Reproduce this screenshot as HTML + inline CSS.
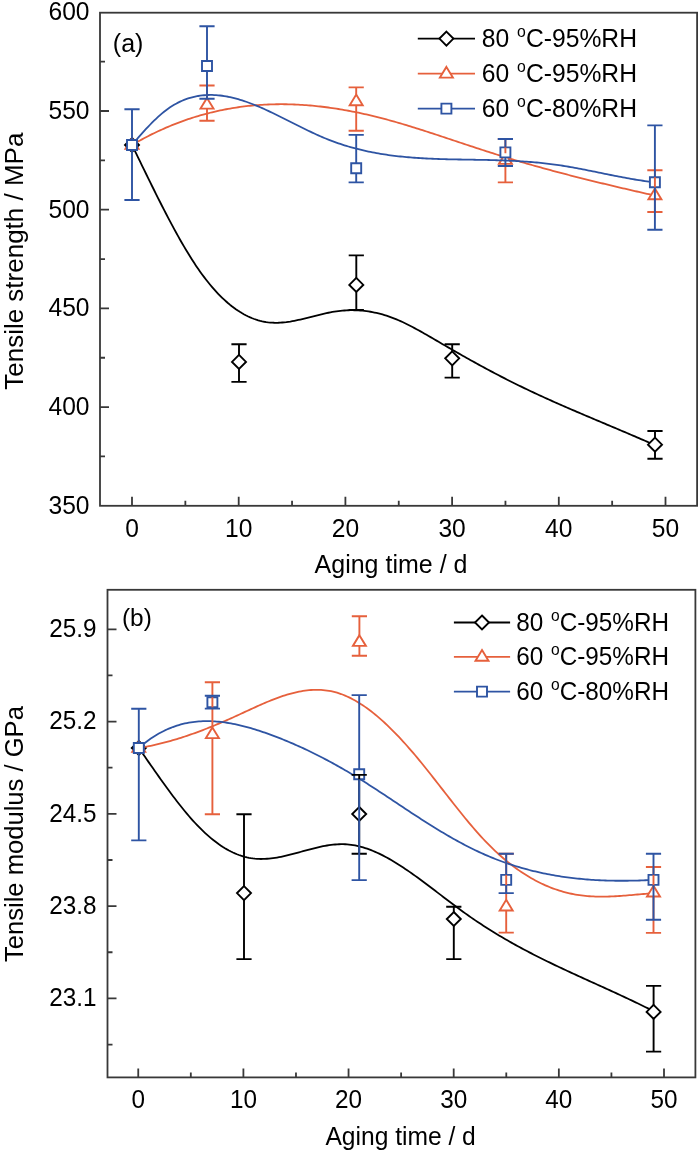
<!DOCTYPE html>
<html><head><meta charset="utf-8"><title>Figure</title>
<style>
html,body{margin:0;padding:0;background:#fff;}
svg{display:block;filter:blur(0.45px);}
text{font-family:"Liberation Sans",sans-serif;fill:#000;}
</style></head>
<body>
<svg width="700" height="1153" viewBox="0 0 700 1153" font-size="25">
<rect width="700" height="1153" fill="#fff"/>
<path d="M132 145 L134 149.1 L136.01 153.2 L138.01 157.31 L140.02 161.43 L142.02 165.54 L144.02 169.64 L146.03 173.74 L148.03 177.84 L150.03 181.91 L152.04 185.98 L154.04 190.02 L156.05 194.05 L158.05 198.05 L160.05 202.02 L162.06 205.97 L164.06 209.88 L166.07 213.76 L168.07 217.6 L170.07 221.4 L172.08 225.16 L174.08 228.87 L176.08 232.54 L178.09 236.15 L180.09 239.71 L182.1 243.21 L184.1 246.65 L186.1 250.03 L188.11 253.34 L190.11 256.59 L192.11 259.76 L194.12 262.86 L196.12 265.88 L198.13 268.83 L200.13 271.69 L202.13 274.47 L204.14 277.16 L206.14 279.78 L208.15 282.31 L210.15 284.76 L212.15 287.14 L214.16 289.43 L216.16 291.64 L218.16 293.77 L220.17 295.83 L222.17 297.8 L224.18 299.7 L226.18 301.51 L228.18 303.25 L230.19 304.92 L232.19 306.5 L234.2 308.01 L236.2 309.45 L238.2 310.81 L240.21 312.09 L242.21 313.3 L244.21 314.43 L246.22 315.49 L248.22 316.48 L250.23 317.39 L252.23 318.23 L254.23 318.99 L256.24 319.69 L258.24 320.31 L260.25 320.86 L262.25 321.34 L264.25 321.75 L266.26 322.09 L268.26 322.36 L270.26 322.56 L272.27 322.7 L274.27 322.77 L276.28 322.79 L278.28 322.75 L280.28 322.66 L282.29 322.51 L284.29 322.33 L286.3 322.1 L288.3 321.82 L290.3 321.52 L292.31 321.17 L294.31 320.8 L296.31 320.4 L298.32 319.97 L300.32 319.53 L302.33 319.06 L304.33 318.58 L306.33 318.09 L308.34 317.59 L310.34 317.08 L312.34 316.57 L314.35 316.06 L316.35 315.55 L318.36 315.05 L320.36 314.56 L322.36 314.08 L324.37 313.61 L326.37 313.17 L328.38 312.75 L330.38 312.35 L332.38 311.98 L334.39 311.64 L336.39 311.33 L338.39 311.06 L340.4 310.83 L342.4 310.64 L344.41 310.48 L346.41 310.35 L348.41 310.27 L350.42 310.22 L352.42 310.21 L354.43 310.23 L356.43 310.29 L358.43 310.39 L360.44 310.53 L362.44 310.7 L364.44 310.91 L366.45 311.15 L368.45 311.44 L370.46 311.76 L372.46 312.12 L374.46 312.52 L376.47 312.95 L378.47 313.43 L380.48 313.94 L382.48 314.48 L384.48 315.07 L386.49 315.69 L388.49 316.36 L390.49 317.06 L392.5 317.8 L394.5 318.57 L396.51 319.39 L398.51 320.24 L400.51 321.12 L402.52 322.03 L404.52 322.98 L406.52 323.95 L408.53 324.95 L410.53 325.97 L412.54 327.02 L414.54 328.08 L416.54 329.17 L418.55 330.27 L420.55 331.38 L422.56 332.51 L424.56 333.66 L426.56 334.81 L428.57 335.97 L430.57 337.13 L432.57 338.31 L434.58 339.48 L436.58 340.65 L438.59 341.83 L440.59 343 L442.59 344.17 L444.6 345.33 L446.6 346.49 L448.61 347.65 L450.61 348.81 L452.61 349.96 L454.62 351.11 L456.62 352.26 L458.62 353.4 L460.63 354.54 L462.63 355.67 L464.64 356.8 L466.64 357.93 L468.64 359.05 L470.65 360.17 L472.65 361.28 L474.66 362.39 L476.66 363.5 L478.66 364.59 L480.67 365.69 L482.67 366.78 L484.67 367.86 L486.68 368.94 L488.68 370.02 L490.69 371.09 L492.69 372.15 L494.69 373.21 L496.7 374.26 L498.7 375.31 L500.7 376.35 L502.71 377.38 L504.71 378.41 L506.72 379.44 L508.72 380.45 L510.72 381.46 L512.73 382.47 L514.73 383.46 L516.74 384.45 L518.74 385.44 L520.74 386.42 L522.75 387.39 L524.75 388.35 L526.75 389.31 L528.76 390.27 L530.76 391.21 L532.77 392.16 L534.77 393.09 L536.77 394.03 L538.78 394.95 L540.78 395.87 L542.79 396.79 L544.79 397.71 L546.79 398.61 L548.8 399.52 L550.8 400.42 L552.8 401.31 L554.81 402.21 L556.81 403.1 L558.82 403.98 L560.82 404.86 L562.82 405.74 L564.83 406.62 L566.83 407.49 L568.84 408.36 L570.84 409.23 L572.84 410.09 L574.85 410.95 L576.85 411.81 L578.85 412.67 L580.86 413.53 L582.86 414.38 L584.87 415.23 L586.87 416.08 L588.87 416.93 L590.88 417.78 L592.88 418.63 L594.89 419.48 L596.89 420.32 L598.89 421.17 L600.9 422.01 L602.9 422.86 L604.9 423.7 L606.91 424.55 L608.91 425.39 L610.92 426.24 L612.92 427.08 L614.92 427.93 L616.93 428.77 L618.93 429.62 L620.93 430.47 L622.94 431.32 L624.94 432.17 L626.95 433.02 L628.95 433.88 L630.95 434.74 L632.96 435.59 L634.96 436.45 L636.97 437.32 L638.97 438.18 L640.97 439.05 L642.98 439.92 L644.98 440.79 L646.98 441.67 L648.99 442.54 L650.99 443.43 L653 444.31 L655 445.2" fill="none" stroke="#000000" stroke-width="1.8" stroke-linejoin="round"/>
<path d="M132 138 L139 145 L132 152 L125 145 Z M239 354.9 L246 361.9 L239 368.9 L232 361.9 Z M356.3 277.9 L363.3 284.9 L356.3 291.9 L349.3 284.9 Z M452.2 351.3 L459.2 358.3 L452.2 365.3 L445.2 358.3 Z M655 437.7 L662 444.7 L655 451.7 L648 444.7 Z" fill="#fff" stroke="#000000" stroke-width="1.9" stroke-linejoin="miter"/>
<path d="M132 145 L134 143.83 L136.01 142.68 L138.01 141.55 L140.01 140.44 L142.02 139.35 L144.02 138.28 L146.02 137.23 L148.03 136.19 L150.03 135.17 L152.03 134.17 L154.04 133.19 L156.04 132.23 L158.04 131.29 L160.05 130.36 L162.05 129.45 L164.06 128.56 L166.06 127.69 L168.06 126.83 L170.07 125.99 L172.07 125.17 L174.07 124.37 L176.08 123.58 L178.08 122.81 L180.08 122.06 L182.09 121.32 L184.09 120.6 L186.09 119.9 L188.1 119.21 L190.1 118.55 L192.1 117.89 L194.11 117.26 L196.11 116.64 L198.11 116.04 L200.12 115.45 L202.12 114.88 L204.12 114.32 L206.13 113.78 L208.13 113.26 L210.13 112.75 L212.14 112.26 L214.14 111.78 L216.14 111.32 L218.15 110.88 L220.15 110.45 L222.16 110.03 L224.16 109.63 L226.16 109.25 L228.17 108.88 L230.17 108.52 L232.17 108.18 L234.18 107.86 L236.18 107.55 L238.18 107.25 L240.19 106.97 L242.19 106.7 L244.19 106.45 L246.2 106.21 L248.2 105.98 L250.2 105.77 L252.21 105.57 L254.21 105.39 L256.21 105.22 L258.22 105.06 L260.22 104.92 L262.22 104.79 L264.23 104.68 L266.23 104.57 L268.23 104.48 L270.24 104.41 L272.24 104.34 L274.24 104.29 L276.25 104.26 L278.25 104.23 L280.26 104.22 L282.26 104.22 L284.26 104.23 L286.27 104.26 L288.27 104.3 L290.27 104.35 L292.28 104.41 L294.28 104.49 L296.28 104.57 L298.29 104.67 L300.29 104.78 L302.29 104.9 L304.3 105.04 L306.3 105.18 L308.3 105.34 L310.31 105.51 L312.31 105.68 L314.31 105.88 L316.32 106.08 L318.32 106.29 L320.32 106.51 L322.33 106.75 L324.33 106.99 L326.33 107.25 L328.34 107.51 L330.34 107.79 L332.34 108.08 L334.35 108.38 L336.35 108.68 L338.36 109 L340.36 109.33 L342.36 109.67 L344.37 110.02 L346.37 110.38 L348.37 110.74 L350.38 111.12 L352.38 111.51 L354.38 111.9 L356.39 112.31 L358.39 112.72 L360.39 113.15 L362.4 113.58 L364.4 114.02 L366.4 114.48 L368.41 114.94 L370.41 115.4 L372.41 115.88 L374.42 116.37 L376.42 116.86 L378.42 117.37 L380.43 117.88 L382.43 118.4 L384.43 118.92 L386.44 119.46 L388.44 120 L390.44 120.55 L392.45 121.11 L394.45 121.68 L396.46 122.25 L398.46 122.83 L400.46 123.41 L402.47 124.01 L404.47 124.6 L406.47 125.2 L408.48 125.81 L410.48 126.43 L412.48 127.04 L414.49 127.67 L416.49 128.29 L418.49 128.93 L420.5 129.56 L422.5 130.2 L424.5 130.84 L426.51 131.49 L428.51 132.14 L430.51 132.79 L432.52 133.44 L434.52 134.1 L436.52 134.76 L438.53 135.42 L440.53 136.08 L442.53 136.75 L444.54 137.41 L446.54 138.08 L448.54 138.74 L450.55 139.41 L452.55 140.08 L454.56 140.75 L456.56 141.41 L458.56 142.08 L460.57 142.75 L462.57 143.41 L464.57 144.08 L466.58 144.74 L468.58 145.41 L470.58 146.07 L472.59 146.73 L474.59 147.39 L476.59 148.05 L478.6 148.7 L480.6 149.36 L482.6 150.01 L484.61 150.66 L486.61 151.3 L488.61 151.95 L490.62 152.59 L492.62 153.22 L494.62 153.86 L496.63 154.49 L498.63 155.12 L500.63 155.74 L502.64 156.36 L504.64 156.98 L506.64 157.59 L508.65 158.2 L510.65 158.81 L512.66 159.41 L514.66 160.01 L516.66 160.6 L518.67 161.2 L520.67 161.78 L522.67 162.37 L524.68 162.95 L526.68 163.53 L528.68 164.11 L530.69 164.68 L532.69 165.25 L534.69 165.81 L536.7 166.38 L538.7 166.94 L540.7 167.49 L542.71 168.05 L544.71 168.6 L546.71 169.15 L548.72 169.69 L550.72 170.24 L552.72 170.78 L554.73 171.31 L556.73 171.85 L558.73 172.38 L560.74 172.91 L562.74 173.44 L564.74 173.96 L566.75 174.48 L568.75 175 L570.76 175.52 L572.76 176.04 L574.76 176.55 L576.77 177.06 L578.77 177.57 L580.77 178.07 L582.78 178.58 L584.78 179.08 L586.78 179.58 L588.79 180.07 L590.79 180.57 L592.79 181.06 L594.8 181.55 L596.8 182.04 L598.8 182.53 L600.81 183.02 L602.81 183.5 L604.81 183.98 L606.82 184.47 L608.82 184.94 L610.82 185.42 L612.83 185.9 L614.83 186.37 L616.83 186.85 L618.84 187.32 L620.84 187.79 L622.84 188.26 L624.85 188.72 L626.85 189.19 L628.86 189.65 L630.86 190.12 L632.86 190.58 L634.87 191.04 L636.87 191.5 L638.87 191.96 L640.88 192.42 L642.88 192.87 L644.88 193.33 L646.89 193.79 L648.89 194.24 L650.89 194.69 L652.9 195.15 L654.9 195.6" fill="none" stroke="#e6603c" stroke-width="1.8" stroke-linejoin="round"/>
<path d="M132 138.2 L138.5 148.9 L125.5 148.9 Z M207 97.9 L213.5 108.6 L200.5 108.6 Z M356.2 94.5 L362.7 105.2 L349.7 105.2 Z M505.4 153.2 L511.9 163.9 L498.9 163.9 Z M654.9 188.6 L661.4 199.3 L648.4 199.3 Z" fill="#fff" stroke="#e6603c" stroke-width="1.9" stroke-linejoin="miter"/>
<path d="M132 145 L134 142.63 L136.01 140.29 L138.01 137.96 L140.01 135.66 L142.02 133.4 L144.02 131.17 L146.02 128.98 L148.03 126.84 L150.03 124.75 L152.03 122.7 L154.04 120.72 L156.04 118.79 L158.04 116.93 L160.05 115.14 L162.05 113.42 L164.06 111.78 L166.06 110.21 L168.06 108.73 L170.07 107.34 L172.07 106.04 L174.07 104.82 L176.08 103.68 L178.08 102.62 L180.08 101.64 L182.09 100.73 L184.09 99.9 L186.09 99.14 L188.1 98.46 L190.1 97.83 L192.1 97.28 L194.11 96.79 L196.11 96.36 L198.11 95.99 L200.12 95.68 L202.12 95.43 L204.12 95.23 L206.13 95.08 L208.13 95 L210.13 94.96 L212.14 94.97 L214.14 95.03 L216.14 95.15 L218.15 95.3 L220.15 95.51 L222.16 95.76 L224.16 96.05 L226.16 96.39 L228.17 96.76 L230.17 97.18 L232.17 97.63 L234.18 98.12 L236.18 98.65 L238.18 99.21 L240.19 99.8 L242.19 100.42 L244.19 101.08 L246.2 101.77 L248.2 102.48 L250.2 103.22 L252.21 103.99 L254.21 104.78 L256.21 105.59 L258.22 106.43 L260.22 107.28 L262.22 108.16 L264.23 109.05 L266.23 109.96 L268.23 110.89 L270.24 111.83 L272.24 112.78 L274.24 113.74 L276.25 114.72 L278.25 115.7 L280.26 116.7 L282.26 117.69 L284.26 118.7 L286.27 119.71 L288.27 120.72 L290.27 121.73 L292.28 122.74 L294.28 123.76 L296.28 124.77 L298.29 125.77 L300.29 126.77 L302.29 127.77 L304.3 128.76 L306.3 129.74 L308.3 130.71 L310.31 131.67 L312.31 132.61 L314.31 133.55 L316.32 134.47 L318.32 135.37 L320.32 136.25 L322.33 137.12 L324.33 137.97 L326.33 138.79 L328.34 139.59 L330.34 140.38 L332.34 141.14 L334.35 141.88 L336.35 142.59 L338.36 143.29 L340.36 143.97 L342.36 144.63 L344.37 145.27 L346.37 145.89 L348.37 146.49 L350.38 147.07 L352.38 147.63 L354.38 148.18 L356.39 148.71 L358.39 149.22 L360.39 149.71 L362.4 150.19 L364.4 150.65 L366.4 151.1 L368.41 151.53 L370.41 151.94 L372.41 152.34 L374.42 152.72 L376.42 153.09 L378.42 153.45 L380.43 153.79 L382.43 154.11 L384.43 154.43 L386.44 154.73 L388.44 155.02 L390.44 155.29 L392.45 155.56 L394.45 155.81 L396.46 156.05 L398.46 156.28 L400.46 156.5 L402.47 156.7 L404.47 156.9 L406.47 157.09 L408.48 157.27 L410.48 157.44 L412.48 157.6 L414.49 157.75 L416.49 157.89 L418.49 158.02 L420.5 158.15 L422.5 158.27 L424.5 158.38 L426.51 158.49 L428.51 158.58 L430.51 158.68 L432.52 158.76 L434.52 158.84 L436.52 158.92 L438.53 158.99 L440.53 159.06 L442.53 159.12 L444.54 159.17 L446.54 159.23 L448.54 159.28 L450.55 159.32 L452.55 159.37 L454.56 159.41 L456.56 159.45 L458.56 159.49 L460.57 159.52 L462.57 159.56 L464.57 159.59 L466.58 159.62 L468.58 159.65 L470.58 159.68 L472.59 159.72 L474.59 159.75 L476.59 159.78 L478.6 159.82 L480.6 159.85 L482.6 159.89 L484.61 159.93 L486.61 159.97 L488.61 160.02 L490.62 160.07 L492.62 160.12 L494.62 160.17 L496.63 160.23 L498.63 160.29 L500.63 160.36 L502.64 160.43 L504.64 160.5 L506.64 160.58 L508.65 160.67 L510.65 160.76 L512.66 160.85 L514.66 160.95 L516.66 161.06 L518.67 161.17 L520.67 161.29 L522.67 161.42 L524.68 161.56 L526.68 161.7 L528.68 161.85 L530.69 162 L532.69 162.17 L534.69 162.34 L536.7 162.52 L538.7 162.71 L540.7 162.91 L542.71 163.12 L544.71 163.34 L546.71 163.57 L548.72 163.8 L550.72 164.05 L552.72 164.31 L554.73 164.58 L556.73 164.86 L558.73 165.15 L560.74 165.45 L562.74 165.76 L564.74 166.09 L566.75 166.42 L568.75 166.76 L570.76 167.1 L572.76 167.46 L574.76 167.82 L576.77 168.19 L578.77 168.57 L580.77 168.95 L582.78 169.34 L584.78 169.73 L586.78 170.12 L588.79 170.52 L590.79 170.93 L592.79 171.33 L594.8 171.74 L596.8 172.14 L598.8 172.55 L600.81 172.96 L602.81 173.37 L604.81 173.78 L606.82 174.19 L608.82 174.6 L610.82 175 L612.83 175.4 L614.83 175.8 L616.83 176.19 L618.84 176.58 L620.84 176.97 L622.84 177.35 L624.85 177.72 L626.85 178.09 L628.86 178.45 L630.86 178.81 L632.86 179.15 L634.87 179.49 L636.87 179.82 L638.87 180.14 L640.88 180.45 L642.88 180.75 L644.88 181.04 L646.89 181.32 L648.89 181.58 L650.89 181.83 L652.9 182.07 L654.9 182.3" fill="none" stroke="#2e54a3" stroke-width="1.8" stroke-linejoin="round"/>
<path d="M127 140 H137 V150 H127 Z M202 61 H212 V71 H202 Z M351.2 163.3 H361.2 V173.3 H351.2 Z M500.4 147.4 H510.4 V157.4 H500.4 Z M649.9 177.3 H659.9 V187.3 H649.9 Z" fill="#fff" stroke="#2e54a3" stroke-width="1.9" stroke-linejoin="miter"/>
<path d="M231.4 344.3 H246.6 M239 344.3 V354.9 M231.4 381.9 H246.6 M239 368.9 V381.9 M348.7 255.4 H363.9 M356.3 255.4 V277.9 M348.7 310 H363.9 M356.3 291.9 V310 M444.6 344.3 H459.8 M452.2 344.3 V351.3 M444.6 377.6 H459.8 M452.2 365.3 V377.6 M647.4 431 H662.6 M655 431 V437.7 M647.4 458.8 H662.6 M655 451.7 V458.8" fill="none" stroke="#000000" stroke-width="1.9"/>
<path d="M199.4 85.5 H214.6 M207 85.5 V97.9 M199.4 120.7 H214.6 M207 108.6 V120.7 M348.6 87.4 H363.8 M356.2 87.4 V94.5 M348.6 130.8 H363.8 M356.2 105.2 V130.8 M497.8 139 H513 M505.4 139 V153.2 M497.8 182.4 H513 M505.4 163.9 V182.4 M647.3 170.3 H662.5 M654.9 170.3 V188.6 M647.3 212 H662.5 M654.9 199.3 V212" fill="none" stroke="#e6603c" stroke-width="1.9"/>
<path d="M124.4 109.25 H139.6 M132 109.25 V140 M124.4 200 H139.6 M132 150 V200 M199.4 26.25 H214.6 M207 26.25 V61 M199.4 98.75 H214.6 M207 71 V98.75 M348.6 134.9 H363.8 M356.2 134.9 V163.3 M348.6 182.4 H363.8 M356.2 173.3 V182.4 M497.8 139 H513 M505.4 139 V147.4 M497.8 166 H513 M505.4 157.4 V166 M647.3 125.4 H662.5 M654.9 125.4 V177.3 M647.3 229.8 H662.5 M654.9 187.3 V229.8" fill="none" stroke="#2e54a3" stroke-width="1.9"/>
<rect x="100" y="12.7" width="597.1" height="493.1" fill="none" stroke="#383838" stroke-width="1.8"/>
<path d="M100 456.45 h5 M100 407.1 h9 M100 357.75 h5 M100 308.4 h9 M100 259.05 h5 M100 209.7 h9 M100 160.35 h5 M100 111 h9 M100 61.65 h5 M132 505.8 v-9 M185.35 505.8 v-5 M238.7 505.8 v-9 M292.05 505.8 v-5 M345.4 505.8 v-9 M398.75 505.8 v-5 M452.1 505.8 v-9 M505.45 505.8 v-5 M558.8 505.8 v-9 M612.15 505.8 v-5 M665.5 505.8 v-9" fill="none" stroke="#383838" stroke-width="1.8"/>
<text transform="translate(89.5 513.8) scale(1 1.08)" text-anchor="end" font-size="24.6">350</text>
<text transform="translate(89.5 415.1) scale(1 1.08)" text-anchor="end" font-size="24.6">400</text>
<text transform="translate(89.5 316.4) scale(1 1.08)" text-anchor="end" font-size="24.6">450</text>
<text transform="translate(89.5 217.7) scale(1 1.08)" text-anchor="end" font-size="24.6">500</text>
<text transform="translate(89.5 119) scale(1 1.08)" text-anchor="end" font-size="24.6">550</text>
<text transform="translate(89.5 20.3) scale(1 1.08)" text-anchor="end" font-size="24.6">600</text>
<text transform="translate(132 536.8) scale(1 1.08)" text-anchor="middle" font-size="24.6">0</text>
<text transform="translate(238.7 536.8) scale(1 1.08)" text-anchor="middle" font-size="24.6">10</text>
<text transform="translate(345.4 536.8) scale(1 1.08)" text-anchor="middle" font-size="24.6">20</text>
<text transform="translate(452.1 536.8) scale(1 1.08)" text-anchor="middle" font-size="24.6">30</text>
<text transform="translate(558.8 536.8) scale(1 1.08)" text-anchor="middle" font-size="24.6">40</text>
<text transform="translate(665.5 536.8) scale(1 1.08)" text-anchor="middle" font-size="24.6">50</text>
<text transform="translate(391 573) scale(1 1.04)" text-anchor="middle" font-size="25">Aging time / d</text>
<text transform="translate(22.7 261.2) rotate(-90) scale(1 1.02)" text-anchor="middle" font-size="26">Tensile strength / MPa</text>
<text transform="translate(112.8 52)" font-size="25">(a)</text>
<path d="M417.8 38.6 H475" stroke="#000000" stroke-width="1.8" fill="none"/>
<path d="M446.4 31.6 L453.4 38.6 L446.4 45.6 L439.4 38.6 Z" fill="#fff" stroke="#000000" stroke-width="1.9"/>
<text transform="translate(481.8 47.2) scale(1 1.075)" font-size="24.7">80 <tspan font-size="15.8" dy="-9.3" dx="1">o</tspan><tspan dy="9.3">C-95%RH</tspan></text>
<path d="M417.8 73.7 H475" stroke="#e6603c" stroke-width="1.8" fill="none"/>
<path d="M446.4 66.9 L452.9 77.6 L439.9 77.6 Z" fill="#fff" stroke="#e6603c" stroke-width="1.9"/>
<text transform="translate(481.8 82.3) scale(1 1.075)" font-size="24.7">60 <tspan font-size="15.8" dy="-9.3" dx="1">o</tspan><tspan dy="9.3">C-95%RH</tspan></text>
<path d="M417.8 108.6 H475" stroke="#2e54a3" stroke-width="1.8" fill="none"/>
<path d="M441.4 103.6 H451.4 V113.6 H441.4 Z" fill="#fff" stroke="#2e54a3" stroke-width="1.9"/>
<text transform="translate(481.8 117.2) scale(1 1.075)" font-size="24.7">60 <tspan font-size="15.8" dy="-9.3" dx="1">o</tspan><tspan dy="9.3">C-80%RH</tspan></text>
<path d="M138.8 748 L140.8 750.86 L142.81 753.73 L144.81 756.61 L146.81 759.48 L148.82 762.36 L150.82 765.23 L152.82 768.09 L154.82 770.95 L156.83 773.8 L158.83 776.63 L160.83 779.45 L162.84 782.26 L164.84 785.04 L166.84 787.8 L168.85 790.53 L170.85 793.24 L172.85 795.92 L174.86 798.57 L176.86 801.18 L178.86 803.75 L180.87 806.29 L182.87 808.79 L184.87 811.24 L186.87 813.64 L188.88 816 L190.88 818.31 L192.88 820.56 L194.89 822.76 L196.89 824.89 L198.89 826.97 L200.9 828.99 L202.9 830.94 L204.9 832.83 L206.91 834.66 L208.91 836.42 L210.91 838.12 L212.92 839.76 L214.92 841.33 L216.92 842.83 L218.92 844.27 L220.93 845.64 L222.93 846.95 L224.93 848.19 L226.94 849.37 L228.94 850.48 L230.94 851.52 L232.95 852.49 L234.95 853.4 L236.95 854.24 L238.96 855.01 L240.96 855.71 L242.96 856.35 L244.96 856.91 L246.97 857.4 L248.97 857.83 L250.97 858.18 L252.98 858.47 L254.98 858.69 L256.98 858.85 L258.99 858.94 L260.99 858.98 L262.99 858.96 L265 858.89 L267 858.77 L269 858.61 L271.01 858.39 L273.01 858.14 L275.01 857.85 L277.01 857.52 L279.02 857.16 L281.02 856.77 L283.02 856.35 L285.03 855.9 L287.03 855.43 L289.03 854.94 L291.04 854.44 L293.04 853.92 L295.04 853.39 L297.05 852.85 L299.05 852.3 L301.05 851.75 L303.06 851.2 L305.06 850.65 L307.06 850.1 L309.06 849.57 L311.07 849.04 L313.07 848.53 L315.07 848.03 L317.08 847.55 L319.08 847.09 L321.08 846.65 L323.09 846.24 L325.09 845.86 L327.09 845.51 L329.1 845.2 L331.1 844.92 L333.1 844.69 L335.11 844.49 L337.11 844.35 L339.11 844.25 L341.11 844.2 L343.12 844.2 L345.12 844.26 L347.12 844.38 L349.13 844.56 L351.13 844.8 L353.13 845.1 L355.14 845.46 L357.14 845.87 L359.14 846.33 L361.15 846.85 L363.15 847.42 L365.15 848.04 L367.15 848.71 L369.16 849.43 L371.16 850.19 L373.16 851 L375.17 851.85 L377.17 852.74 L379.17 853.67 L381.18 854.64 L383.18 855.65 L385.18 856.7 L387.19 857.78 L389.19 858.9 L391.19 860.05 L393.2 861.23 L395.2 862.44 L397.2 863.67 L399.2 864.94 L401.21 866.23 L403.21 867.55 L405.21 868.88 L407.22 870.24 L409.22 871.62 L411.22 873.02 L413.23 874.44 L415.23 875.87 L417.23 877.32 L419.24 878.78 L421.24 880.26 L423.24 881.74 L425.25 883.24 L427.25 884.74 L429.25 886.25 L431.25 887.77 L433.26 889.29 L435.26 890.82 L437.26 892.35 L439.27 893.88 L441.27 895.41 L443.27 896.94 L445.28 898.47 L447.28 899.99 L449.28 901.51 L451.29 903.03 L453.29 904.54 L455.29 906.04 L457.29 907.53 L459.3 909.01 L461.3 910.48 L463.3 911.94 L465.31 913.38 L467.31 914.81 L469.31 916.22 L471.32 917.62 L473.32 919 L475.32 920.37 L477.33 921.72 L479.33 923.05 L481.33 924.37 L483.34 925.68 L485.34 926.97 L487.34 928.25 L489.34 929.52 L491.35 930.77 L493.35 932.01 L495.35 933.23 L497.36 934.45 L499.36 935.65 L501.36 936.84 L503.37 938.01 L505.37 939.18 L507.37 940.34 L509.38 941.48 L511.38 942.61 L513.38 943.73 L515.39 944.85 L517.39 945.95 L519.39 947.04 L521.39 948.12 L523.4 949.2 L525.4 950.26 L527.4 951.32 L529.41 952.36 L531.41 953.4 L533.41 954.43 L535.42 955.46 L537.42 956.47 L539.42 957.48 L541.43 958.48 L543.43 959.47 L545.43 960.46 L547.44 961.44 L549.44 962.42 L551.44 963.39 L553.44 964.36 L555.45 965.32 L557.45 966.27 L559.45 967.22 L561.46 968.16 L563.46 969.11 L565.46 970.04 L567.47 970.98 L569.47 971.91 L571.47 972.83 L573.48 973.76 L575.48 974.68 L577.48 975.6 L579.48 976.51 L581.49 977.43 L583.49 978.34 L585.49 979.25 L587.5 980.16 L589.5 981.07 L591.5 981.98 L593.51 982.89 L595.51 983.8 L597.51 984.71 L599.52 985.61 L601.52 986.52 L603.52 987.43 L605.53 988.34 L607.53 989.26 L609.53 990.17 L611.53 991.09 L613.54 992.01 L615.54 992.93 L617.54 993.85 L619.55 994.77 L621.55 995.7 L623.55 996.64 L625.56 997.57 L627.56 998.51 L629.56 999.46 L631.57 1000.41 L633.57 1001.36 L635.57 1002.32 L637.58 1003.28 L639.58 1004.25 L641.58 1005.22 L643.58 1006.2 L645.59 1007.19 L647.59 1008.18 L649.59 1009.18 L651.6 1010.19 L653.6 1011.2" fill="none" stroke="#000000" stroke-width="1.8" stroke-linejoin="round"/>
<path d="M138.8 741 L145.8 748 L138.8 755 L131.8 748 Z M244 886.1 L251 893.1 L244 900.1 L237 893.1 Z M359.2 807 L366.2 814 L359.2 821 L352.2 814 Z M453.8 912 L460.8 919 L453.8 926 L446.8 919 Z M653.6 1004.9 L660.6 1011.9 L653.6 1018.9 L646.6 1011.9 Z" fill="#fff" stroke="#000000" stroke-width="1.9" stroke-linejoin="miter"/>
<path d="M138.8 748 L140.8 747.67 L142.81 747.32 L144.81 746.95 L146.81 746.57 L148.81 746.18 L150.82 745.76 L152.82 745.33 L154.82 744.89 L156.82 744.43 L158.83 743.95 L160.83 743.46 L162.83 742.96 L164.84 742.44 L166.84 741.91 L168.84 741.36 L170.84 740.8 L172.85 740.22 L174.85 739.63 L176.85 739.03 L178.85 738.41 L180.86 737.79 L182.86 737.14 L184.86 736.49 L186.87 735.82 L188.87 735.14 L190.87 734.45 L192.87 733.75 L194.88 733.03 L196.88 732.3 L198.88 731.57 L200.88 730.82 L202.89 730.06 L204.89 729.28 L206.89 728.5 L208.9 727.71 L210.9 726.91 L212.9 726.09 L214.9 725.27 L216.91 724.44 L218.91 723.6 L220.91 722.75 L222.91 721.89 L224.92 721.02 L226.92 720.14 L228.92 719.25 L230.93 718.36 L232.93 717.45 L234.93 716.54 L236.93 715.63 L238.94 714.7 L240.94 713.78 L242.94 712.85 L244.94 711.92 L246.95 710.99 L248.95 710.06 L250.95 709.14 L252.96 708.22 L254.96 707.31 L256.96 706.4 L258.96 705.51 L260.97 704.62 L262.97 703.75 L264.97 702.89 L266.97 702.04 L268.98 701.21 L270.98 700.4 L272.98 699.6 L274.99 698.83 L276.99 698.08 L278.99 697.35 L280.99 696.65 L283 695.97 L285 695.32 L287 694.7 L289 694.11 L291.01 693.55 L293.01 693.03 L295.01 692.54 L297.02 692.08 L299.02 691.66 L301.02 691.28 L303.02 690.95 L305.03 690.65 L307.03 690.39 L309.03 690.18 L311.03 690.02 L313.04 689.9 L315.04 689.84 L317.04 689.82 L319.05 689.85 L321.05 689.94 L323.05 690.08 L325.05 690.28 L327.06 690.53 L329.06 690.85 L331.06 691.22 L333.06 691.66 L335.07 692.15 L337.07 692.71 L339.07 693.34 L341.08 694.03 L343.08 694.78 L345.08 695.59 L347.08 696.47 L349.09 697.4 L351.09 698.39 L353.09 699.44 L355.09 700.54 L357.1 701.7 L359.1 702.92 L361.1 704.19 L363.11 705.51 L365.11 706.88 L367.11 708.31 L369.11 709.78 L371.12 711.3 L373.12 712.88 L375.12 714.49 L377.12 716.16 L379.13 717.87 L381.13 719.62 L383.13 721.42 L385.14 723.26 L387.14 725.14 L389.14 727.06 L391.14 729.02 L393.15 731.02 L395.15 733.06 L397.15 735.13 L399.15 737.24 L401.16 739.38 L403.16 741.56 L405.16 743.77 L407.16 746.02 L409.17 748.29 L411.17 750.59 L413.17 752.93 L415.18 755.29 L417.18 757.67 L419.18 760.09 L421.18 762.53 L423.19 764.99 L425.19 767.47 L427.19 769.97 L429.19 772.49 L431.2 775.02 L433.2 777.57 L435.2 780.12 L437.21 782.69 L439.21 785.25 L441.21 787.83 L443.21 790.4 L445.22 792.97 L447.22 795.55 L449.22 798.11 L451.22 800.67 L453.23 803.22 L455.23 805.76 L457.23 808.29 L459.24 810.8 L461.24 813.3 L463.24 815.77 L465.24 818.22 L467.25 820.65 L469.25 823.06 L471.25 825.43 L473.25 827.78 L475.26 830.09 L477.26 832.37 L479.26 834.62 L481.27 836.82 L483.27 838.99 L485.27 841.11 L487.27 843.19 L489.28 845.22 L491.28 847.21 L493.28 849.16 L495.28 851.06 L497.29 852.92 L499.29 854.74 L501.29 856.52 L503.3 858.25 L505.3 859.94 L507.3 861.59 L509.3 863.2 L511.31 864.77 L513.31 866.29 L515.31 867.78 L517.31 869.22 L519.32 870.62 L521.32 871.99 L523.32 873.31 L525.33 874.59 L527.33 875.84 L529.33 877.04 L531.33 878.21 L533.34 879.34 L535.34 880.43 L537.34 881.48 L539.34 882.49 L541.35 883.47 L543.35 884.41 L545.35 885.31 L547.36 886.17 L549.36 887 L551.36 887.79 L553.36 888.55 L555.37 889.27 L557.37 889.95 L559.37 890.6 L561.37 891.21 L563.38 891.79 L565.38 892.33 L567.38 892.84 L569.39 893.31 L571.39 893.75 L573.39 894.16 L575.39 894.53 L577.4 894.87 L579.4 895.18 L581.4 895.45 L583.4 895.69 L585.41 895.9 L587.41 896.09 L589.41 896.24 L591.42 896.37 L593.42 896.47 L595.42 896.55 L597.42 896.61 L599.43 896.64 L601.43 896.65 L603.43 896.64 L605.43 896.61 L607.44 896.57 L609.44 896.5 L611.44 896.42 L613.45 896.33 L615.45 896.23 L617.45 896.11 L619.45 895.98 L621.46 895.84 L623.46 895.69 L625.46 895.54 L627.46 895.38 L629.47 895.21 L631.47 895.04 L633.47 894.86 L635.48 894.69 L637.48 894.51 L639.48 894.33 L641.48 894.16 L643.49 893.99 L645.49 893.82 L647.49 893.65 L649.49 893.49 L651.5 893.34 L653.5 893.2" fill="none" stroke="#e6603c" stroke-width="1.8" stroke-linejoin="round"/>
<path d="M138.8 741.2 L145.3 751.9 L132.3 751.9 Z M212.4 727.4 L218.9 738.1 L205.9 738.1 Z M359.4 635.2 L365.9 645.9 L352.9 645.9 Z M506.2 899.8 L512.7 910.5 L499.7 910.5 Z M653.5 885.8 L660 896.5 L647 896.5 Z" fill="#fff" stroke="#e6603c" stroke-width="1.9" stroke-linejoin="miter"/>
<path d="M138.8 748 L140.8 746.27 L142.81 744.6 L144.81 743 L146.81 741.46 L148.81 739.99 L150.82 738.59 L152.82 737.24 L154.82 735.96 L156.82 734.74 L158.83 733.57 L160.83 732.47 L162.83 731.43 L164.84 730.44 L166.84 729.51 L168.84 728.63 L170.84 727.8 L172.85 727.03 L174.85 726.32 L176.85 725.65 L178.85 725.03 L180.86 724.46 L182.86 723.94 L184.86 723.47 L186.87 723.05 L188.87 722.66 L190.87 722.33 L192.87 722.03 L194.88 721.78 L196.88 721.57 L198.88 721.41 L200.88 721.28 L202.89 721.19 L204.89 721.13 L206.89 721.12 L208.9 721.14 L210.9 721.19 L212.9 721.28 L214.9 721.4 L216.91 721.55 L218.91 721.74 L220.91 721.95 L222.91 722.19 L224.92 722.46 L226.92 722.76 L228.92 723.09 L230.93 723.44 L232.93 723.81 L234.93 724.21 L236.93 724.64 L238.94 725.09 L240.94 725.56 L242.94 726.05 L244.94 726.57 L246.95 727.1 L248.95 727.66 L250.95 728.23 L252.96 728.82 L254.96 729.43 L256.96 730.06 L258.96 730.7 L260.97 731.36 L262.97 732.03 L264.97 732.72 L266.97 733.42 L268.98 734.14 L270.98 734.86 L272.98 735.6 L274.99 736.36 L276.99 737.12 L278.99 737.9 L280.99 738.69 L283 739.49 L285 740.31 L287 741.13 L289 741.97 L291.01 742.82 L293.01 743.69 L295.01 744.56 L297.02 745.45 L299.02 746.35 L301.02 747.26 L303.02 748.18 L305.03 749.12 L307.03 750.06 L309.03 751.02 L311.03 751.99 L313.04 752.97 L315.04 753.96 L317.04 754.96 L319.05 755.98 L321.05 757.01 L323.05 758.04 L325.05 759.09 L327.06 760.15 L329.06 761.22 L331.06 762.3 L333.06 763.39 L335.07 764.5 L337.07 765.61 L339.07 766.74 L341.08 767.87 L343.08 769.02 L345.08 770.18 L347.08 771.34 L349.09 772.52 L351.09 773.71 L353.09 774.91 L355.09 776.13 L357.1 777.35 L359.1 778.58 L361.1 779.82 L363.11 781.07 L365.11 782.34 L367.11 783.61 L369.11 784.89 L371.12 786.17 L373.12 787.47 L375.12 788.77 L377.12 790.07 L379.13 791.38 L381.13 792.7 L383.13 794.02 L385.14 795.35 L387.14 796.67 L389.14 798 L391.14 799.33 L393.15 800.67 L395.15 802 L397.15 803.34 L399.15 804.67 L401.16 806 L403.16 807.34 L405.16 808.67 L407.16 809.99 L409.17 811.32 L411.17 812.64 L413.17 813.95 L415.18 815.26 L417.18 816.57 L419.18 817.87 L421.18 819.16 L423.19 820.45 L425.19 821.73 L427.19 823 L429.19 824.26 L431.2 825.52 L433.2 826.77 L435.2 828 L437.21 829.23 L439.21 830.45 L441.21 831.65 L443.21 832.85 L445.22 834.04 L447.22 835.21 L449.22 836.37 L451.22 837.52 L453.23 838.66 L455.23 839.78 L457.23 840.89 L459.24 841.99 L461.24 843.07 L463.24 844.14 L465.24 845.19 L467.25 846.23 L469.25 847.25 L471.25 848.26 L473.25 849.25 L475.26 850.22 L477.26 851.18 L479.26 852.11 L481.27 853.03 L483.27 853.93 L485.27 854.82 L487.27 855.68 L489.28 856.53 L491.28 857.36 L493.28 858.17 L495.28 858.97 L497.29 859.75 L499.29 860.51 L501.29 861.25 L503.3 861.98 L505.3 862.69 L507.3 863.39 L509.3 864.07 L511.31 864.73 L513.31 865.38 L515.31 866.01 L517.31 866.63 L519.32 867.23 L521.32 867.81 L523.32 868.38 L525.33 868.94 L527.33 869.48 L529.33 870 L531.33 870.51 L533.34 871.01 L535.34 871.49 L537.34 871.96 L539.34 872.41 L541.35 872.85 L543.35 873.28 L545.35 873.69 L547.36 874.09 L549.36 874.48 L551.36 874.85 L553.36 875.21 L555.37 875.56 L557.37 875.89 L559.37 876.21 L561.37 876.52 L563.38 876.82 L565.38 877.1 L567.38 877.38 L569.39 877.64 L571.39 877.89 L573.39 878.13 L575.39 878.35 L577.4 878.57 L579.4 878.77 L581.4 878.97 L583.4 879.15 L585.41 879.32 L587.41 879.48 L589.41 879.64 L591.42 879.78 L593.42 879.91 L595.42 880.03 L597.42 880.14 L599.43 880.24 L601.43 880.34 L603.43 880.42 L605.43 880.49 L607.44 880.56 L609.44 880.61 L611.44 880.66 L613.45 880.7 L615.45 880.73 L617.45 880.75 L619.45 880.77 L621.46 880.77 L623.46 880.77 L625.46 880.76 L627.46 880.74 L629.47 880.72 L631.47 880.69 L633.47 880.65 L635.48 880.6 L637.48 880.55 L639.48 880.49 L641.48 880.42 L643.49 880.35 L645.49 880.27 L647.49 880.19 L649.49 880.1 L651.5 880 L653.5 879.9" fill="none" stroke="#2e54a3" stroke-width="1.8" stroke-linejoin="round"/>
<path d="M133.8 743 H143.8 V753 H133.8 Z M207.4 697.2 H217.4 V707.2 H207.4 Z M354.2 769.3 H364.2 V779.3 H354.2 Z M501.2 874.9 H511.2 V884.9 H501.2 Z M648.5 874.9 H658.5 V884.9 H648.5 Z" fill="#fff" stroke="#2e54a3" stroke-width="1.9" stroke-linejoin="miter"/>
<path d="M236.4 814.2 H251.6 M244 814.2 V886.1 M236.4 959.1 H251.6 M244 900.1 V959.1 M351.6 774.9 H366.8 M359.2 774.9 V807 M351.6 853.8 H366.8 M359.2 821 V853.8 M446.2 906.7 H461.4 M453.8 906.7 V912 M446.2 959.1 H461.4 M453.8 926 V959.1 M646 985.9 H661.2 M653.6 985.9 V1004.9 M646 1051.6 H661.2 M653.6 1018.9 V1051.6" fill="none" stroke="#000000" stroke-width="1.9"/>
<path d="M204.8 682.2 H220 M212.4 682.2 V727.4 M204.8 814.2 H220 M212.4 738.1 V814.2 M351.8 616.3 H367 M359.4 616.3 V635.2 M351.8 655.8 H367 M359.4 645.9 V655.8 M498.6 853.7 H513.8 M506.2 853.7 V899.8 M498.6 932.6 H513.8 M506.2 910.5 V932.6 M645.9 867 H661.1 M653.5 867 V885.8 M645.9 932.9 H661.1 M653.5 896.5 V932.9" fill="none" stroke="#e6603c" stroke-width="1.9"/>
<path d="M131.2 708.7 H146.4 M138.8 708.7 V743 M131.2 840.4 H146.4 M138.8 753 V840.4 M204.8 695.7 H220 M212.4 695.7 V697.2 M204.8 708.6 H220 M212.4 707.2 V708.6 M351.6 695.1 H366.8 M359.2 695.1 V769.3 M351.6 880.1 H366.8 M359.2 779.3 V880.1 M498.6 853.7 H513.8 M506.2 853.7 V874.9 M498.6 893.1 H513.8 M506.2 884.9 V893.1 M645.9 853.8 H661.1 M653.5 853.8 V874.9 M645.9 919.7 H661.1 M653.5 884.9 V919.7" fill="none" stroke="#2e54a3" stroke-width="1.9"/>
<rect x="107.5" y="589.8" width="587.9" height="487.6" fill="none" stroke="#383838" stroke-width="1.8"/>
<path d="M107.5 1044.53 h5 M107.5 998.4 h9 M107.5 952.26 h5 M107.5 906.12 h9 M107.5 859.98 h5 M107.5 813.85 h9 M107.5 767.71 h5 M107.5 721.57 h9 M107.5 675.44 h5 M107.5 629.3 h9 M138.25 1077.4 v-9 M190.82 1077.4 v-5 M243.4 1077.4 v-9 M295.98 1077.4 v-5 M348.55 1077.4 v-9 M401.12 1077.4 v-5 M453.7 1077.4 v-9 M506.28 1077.4 v-5 M558.85 1077.4 v-9 M611.42 1077.4 v-5 M664 1077.4 v-9" fill="none" stroke="#383838" stroke-width="1.8"/>
<text transform="translate(96.6 1006.3) scale(1 1.08)" text-anchor="end" font-size="24.3">23.1</text>
<text transform="translate(96.6 914.02) scale(1 1.08)" text-anchor="end" font-size="24.3">23.8</text>
<text transform="translate(96.6 821.75) scale(1 1.08)" text-anchor="end" font-size="24.3">24.5</text>
<text transform="translate(96.6 729.47) scale(1 1.08)" text-anchor="end" font-size="24.3">25.2</text>
<text transform="translate(96.6 637.2) scale(1 1.08)" text-anchor="end" font-size="24.3">25.9</text>
<text transform="translate(138.25 1108) scale(1 1.08)" text-anchor="middle" font-size="24.3">0</text>
<text transform="translate(243.4 1108) scale(1 1.08)" text-anchor="middle" font-size="24.3">10</text>
<text transform="translate(348.55 1108) scale(1 1.08)" text-anchor="middle" font-size="24.3">20</text>
<text transform="translate(453.7 1108) scale(1 1.08)" text-anchor="middle" font-size="24.3">30</text>
<text transform="translate(558.85 1108) scale(1 1.08)" text-anchor="middle" font-size="24.3">40</text>
<text transform="translate(664 1108) scale(1 1.08)" text-anchor="middle" font-size="24.3">50</text>
<text transform="translate(400.6 1145.2) scale(1 1.04)" text-anchor="middle" font-size="24.6">Aging time / d</text>
<text transform="translate(23.3 834.1) rotate(-90) scale(1 1.02)" text-anchor="middle" font-size="25.6">Tensile modulus / GPa</text>
<text transform="translate(122 626.2)" font-size="24.4">(b)</text>
<path d="M453.9 622.5 H510.1" stroke="#000000" stroke-width="1.8" fill="none"/>
<path d="M482 615.5 L489 622.5 L482 629.5 L475 622.5 Z" fill="#fff" stroke="#000000" stroke-width="1.9"/>
<text transform="translate(516.2 631.1) scale(1 1.075)" font-size="24.3">80 <tspan font-size="15.6" dy="-9.3" dx="1">o</tspan><tspan dy="9.3">C-95%RH</tspan></text>
<path d="M453.9 656.8 H510.1" stroke="#e6603c" stroke-width="1.8" fill="none"/>
<path d="M482 650 L488.5 660.7 L475.5 660.7 Z" fill="#fff" stroke="#e6603c" stroke-width="1.9"/>
<text transform="translate(516.2 665.4) scale(1 1.075)" font-size="24.3">60 <tspan font-size="15.6" dy="-9.3" dx="1">o</tspan><tspan dy="9.3">C-95%RH</tspan></text>
<path d="M453.9 691.6 H510.1" stroke="#2e54a3" stroke-width="1.8" fill="none"/>
<path d="M477 686.6 H487 V696.6 H477 Z" fill="#fff" stroke="#2e54a3" stroke-width="1.9"/>
<text transform="translate(516.2 700.2) scale(1 1.075)" font-size="24.3">60 <tspan font-size="15.6" dy="-9.3" dx="1">o</tspan><tspan dy="9.3">C-80%RH</tspan></text>
</svg>
</body></html>
